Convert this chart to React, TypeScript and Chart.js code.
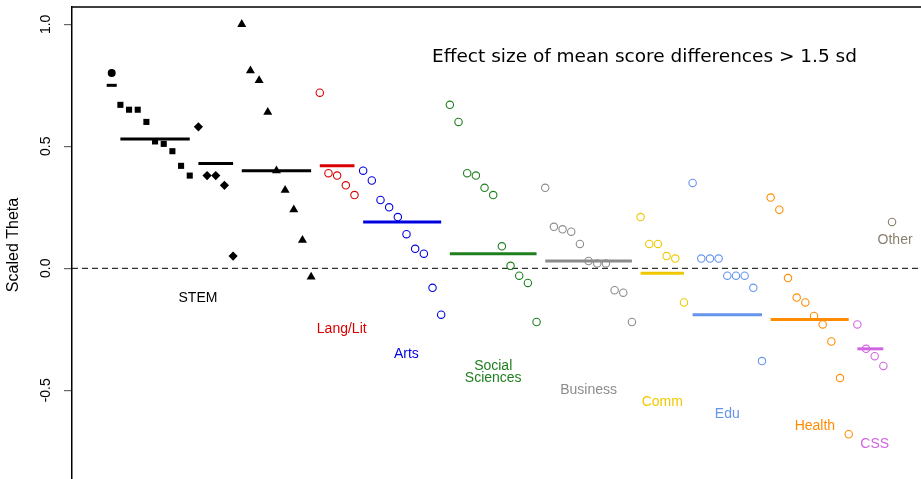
import React, { useEffect, useRef } from 'react';
import { Chart, registerables } from 'chart.js';
Chart.register(...registerables);

// ---- data ----
const STEM_CIRCLE = [0.80];
const STEM_SQUARE = [0.67, 0.65, 0.65, 0.60, 0.52, 0.51, 0.48, 0.42, 0.38];
const STEM_DIAMOND = [0.58, 0.38, 0.38, 0.34, 0.05];
const STEM_TRIANGLE = [1.00, 0.81, 0.77, 0.64, 0.40, 0.32, 0.24, 0.115, -0.035];
const LANG_LIT = [0.72, 0.39, 0.38, 0.34, 0.30];
const ARTS = [0.40, 0.36, 0.28, 0.25, 0.21, 0.14, 0.08, 0.06, -0.08, -0.19];
const SOCIAL_SCIENCES = [0.67, 0.60, 0.39, 0.38, 0.33, 0.30, 0.09, 0.01, -0.03, -0.06, -0.22];
const BUSINESS = [0.33, 0.17, 0.16, 0.15, 0.10, 0.03, 0.02, 0.02, -0.09, -0.10, -0.22];
const COMM = [0.21, 0.10, 0.10, 0.05, 0.04, -0.14];
const EDU = [0.35, 0.04, 0.04, 0.04, -0.03, -0.03, -0.03, -0.08, -0.38];
const HEALTH = [0.29, 0.24, -0.04, -0.12, -0.14, -0.195, -0.23, -0.30, -0.45, -0.68];
const CSS_VALUES = [-0.23, -0.33, -0.36, -0.40];
const OTHER = [0.19];

const GROUP_VALUES = [STEM_CIRCLE, STEM_SQUARE, STEM_DIAMOND, STEM_TRIANGLE, LANG_LIT, ARTS, SOCIAL_SCIENCES, BUSINESS, COMM, EDU, HEALTH, CSS_VALUES, OTHER];
const GROUP_MEANS: (number | null)[] = [0.75, 0.53, 0.43, 0.40, 0.42, 0.19, 0.06, 0.03, -0.02, -0.19, -0.21, -0.33, null];

const CATEGORY_LABELS = ['STEM', 'Lang/Lit', 'Arts', 'Social', 'Sciences', 'Business', 'Comm', 'Edu', 'Health', 'CSS', 'Other'];
const LABEL_X = [10.95, 27.53, 34.98, 45.0, 45.0, 56.0, 64.5, 72.0, 82.1, 89.0, 91.35];
const LABEL_Y = [-0.123, -0.25, -0.35, -0.40, -0.45, -0.50, -0.55, -0.597, -0.646, -0.72, 0.116];

const Y_TICKS = [-0.5, 0, 0.5, 1.0];
const Y_TICK_LABELS = ['-0.5', '0.0', '0.5', '1.0'];
const Y_TITLE = 'Scaled Theta';
const PLOT_TITLE = 'Effect size of mean score differences > 1.5 sd';

// ---- styles ----
const BLACK = '#000000';
const RED = '#D90000';
const BLUE = '#0000E0';
const GREEN = '#1F7F1F';
const GREY = '#8C8C8C';
const GOLD = '#F0C800';
const CORNFLOWER = '#6495ED';
const ORANGE = '#FF8C00';
const ORCHID = '#D066E0';
const TAUPE = '#8A8070';

const GROUP_COLORS = [BLACK, BLACK, BLACK, BLACK, RED, BLUE, GREEN, GREY, GOLD, CORNFLOWER, ORANGE, ORCHID, TAUPE];
const GROUP_POINT = ['circle', 'rect', 'rectRot', 'triangle', 'circle', 'circle', 'circle', 'circle', 'circle', 'circle', 'circle', 'circle', 'circle'];
const GROUP_FILLED = [true, true, true, true, false, false, false, false, false, false, false, false, false];
const GROUP_RADIUS = [4, 4.3, 4.6, 5.2, 3.7, 3.7, 3.7, 3.7, 3.7, 3.7, 3.7, 3.7, 3.7];
const LABEL_COLORS = [BLACK, RED, BLUE, GREEN, GREEN, GREY, GOLD, CORNFLOWER, ORANGE, ORCHID, TAUPE];

const X_MIN = -3.58;
const X_MAX = 94.34;
const Y_MIN = -0.8635;
const Y_MAX = 1.071;

const FONT = '"Liberation Sans", Arial, Helvetica, sans-serif';
const TITLE_FONT = '"DejaVu Sans", "Liberation Sans", sans-serif';

function buildDatasets() {
  const datasets: any[] = [];
  let idx = 1;
  GROUP_VALUES.forEach((vals, g) => {
    const start = idx;
    const pts = vals.map((v, i) => ({ x: start + i, y: v }));
    idx += vals.length;
    const end = idx - 1;
    const color = GROUP_COLORS[g];
    datasets.push({
      data: pts,
      pointStyle: GROUP_POINT[g],
      pointRadius: GROUP_RADIUS[g],
      backgroundColor: GROUP_FILLED[g] ? color : 'rgba(0,0,0,0)',
      borderColor: color,
      pointBorderWidth: GROUP_FILLED[g] ? 0 : 1.1,
      showLine: false,
    });
    const m = GROUP_MEANS[g];
    if (m !== null) {
      const pad = vals.length === 1 ? 0.58 : 0;
      datasets.push({
        data: [{ x: start - pad, y: m }, { x: end + pad, y: m }],
        showLine: true,
        borderColor: color,
        borderWidth: 3,
        pointRadius: 0,
        borderCapStyle: 'butt',
      });
    }
  });
  // zero reference line (drawn last = underneath)
  datasets.push({
    data: [{ x: X_MIN, y: 0 }, { x: X_MAX, y: 0 }],
    showLine: true,
    borderColor: BLACK,
    borderWidth: 1,
    borderDash: [6, 4],
    pointRadius: 0,
  });
  return datasets;
}

const overlay = {
  id: 'overlay',
  afterDraw(chart: any) {
    const { ctx, chartArea, scales } = chart;
    const xs = scales.x;
    const ys = scales.y;
    ctx.save();
    // top frame line
    ctx.strokeStyle = BLACK;
    ctx.lineWidth = 1.5;
    ctx.beginPath();
    ctx.moveTo(chartArea.left - 0.75, chartArea.top);
    ctx.lineTo(chartArea.right, chartArea.top);
    ctx.stroke();

    // y tick labels, rotated
    ctx.fillStyle = BLACK;
    ctx.font = `14px ${FONT}`;
    ctx.textAlign = 'center';
    ctx.textBaseline = 'middle';
    Y_TICKS.forEach((v, i) => {
      const py = ys.getPixelForValue(v);
      ctx.save();
      ctx.translate(chartArea.left - 25.5, py);
      ctx.rotate(-Math.PI / 2);
      ctx.fillText(Y_TICK_LABELS[i], 0, 0);
      ctx.restore();
    });

    // y axis title
    ctx.save();
    ctx.font = `16px ${FONT}`;
    ctx.translate(14, 245);
    ctx.rotate(-Math.PI / 2);
    ctx.fillText(Y_TITLE, 0, 0);
    ctx.restore();

    // category labels
    ctx.font = `14px ${FONT}`;
    CATEGORY_LABELS.forEach((t, i) => {
      ctx.fillStyle = LABEL_COLORS[i];
      ctx.fillText(t, xs.getPixelForValue(LABEL_X[i]), ys.getPixelForValue(LABEL_Y[i]));
    });

    // plot title
    ctx.fillStyle = BLACK;
    ctx.font = `18.5px ${TITLE_FONT}`;
    ctx.fillText(PLOT_TITLE, xs.getPixelForValue(62.45), ys.getPixelForValue(0.866));
    ctx.restore();
  },
};

export default function App() {
  const ref = useRef<HTMLCanvasElement | null>(null);
  useEffect(() => {
    document.body.style.margin = '0';
    const canvas = ref.current!;
    const chart = new Chart(canvas, {
      type: 'scatter',
      data: { datasets: buildDatasets() },
      options: {
        responsive: false,
        animation: false,
        events: [],
        layout: { autoPadding: false, padding: { top: 7, left: 0, right: 0, bottom: 0 } },
        plugins: { legend: { display: false }, tooltip: { enabled: false }, title: { display: false } },
        scales: {
          x: { type: 'linear', min: X_MIN, max: X_MAX, display: false },
          y: {
            type: 'linear',
            min: Y_MIN,
            max: Y_MAX,
            position: 'left',
            afterFit: (s: any) => { s.width = 72; },
            afterBuildTicks: (s: any) => { s.ticks = Y_TICKS.map((v) => ({ value: v })); },
            ticks: { display: false },
            grid: { drawOnChartArea: false, drawTicks: true, tickLength: 8, color: '#666666', lineWidth: 1.2 },
            border: { display: true, color: BLACK, width: 1.5 },
          },
        },
      } as any,
      plugins: [overlay],
    });
    return () => chart.destroy();
  }, []);
  return <canvas ref={ref} width={921} height={479} style={{ display: 'block' }} />;
}
